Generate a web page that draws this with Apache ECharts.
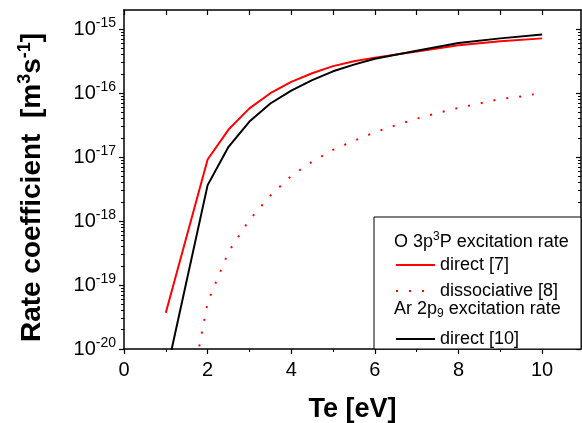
<!DOCTYPE html>
<html><head><meta charset="utf-8">
<script src="https://cdn.jsdelivr.net/npm/echarts@6/dist/echarts.min.js"></script>
<style>html,body{margin:0;padding:0;background:#fff}#c{width:582px;height:423px}</style>
</head><body><div id="c"></div>
<script>
// ---- data ----
const teDirectO   = [1, 2, 2.5, 3, 3.5, 4, 4.5, 5, 5.5, 6, 7, 8, 9, 10];
const rateDirectO = [3.7e-20, 9.2e-18, 2.7e-17, 5.8e-17, 1.0e-16, 1.5e-16, 2.05e-16, 2.65e-16, 3.15e-16, 3.6e-16, 4.5e-16, 5.6e-16, 6.5e-16, 7.2e-16];
const teDissO     = [1.8, 2, 2.5, 3, 3.5, 4, 4.5, 5, 5.5, 6, 6.5, 7, 7.5, 8, 8.5, 9, 9.5, 9.8];
const rateDissO   = [1.1e-20, 5.4e-20, 3.3e-19, 1.05e-18, 2.5e-18, 5.1e-18, 8.5e-18, 1.3e-17, 1.8e-17, 2.45e-17, 3.15e-17, 4.0e-17, 4.9e-17, 5.9e-17, 6.9e-17, 8.1e-17, 8.9e-17, 9.6e-17];
const teDirectAr  = [1, 2, 2.5, 3, 3.5, 4, 4.5, 5, 5.5, 6, 7, 8, 9, 10];
const rateDirectAr= [3.8e-21, 3.65e-18, 1.45e-17, 3.6e-17, 6.9e-17, 1.1e-16, 1.6e-16, 2.2e-16, 2.8e-16, 3.45e-16, 4.6e-16, 6.1e-16, 7.2e-16, 8.3e-16];
const xTickValues = [0, 2, 4, 6, 8, 10];
const xMinorValues = [1, 3, 5, 7, 9];
const xTopTicks = [0, 1, 2, 3, 4, 5, 6, 7, 8, 9, 10];
const yDecades = [1e-20, 1e-19, 1e-18, 1e-17, 1e-16, 1e-15];
const seriesNames = ['direct [7]', 'dissociative [8]', 'direct [10]'];

const FONT = "'Liberation Sans', Arial, sans-serif";
const X_MIN = 0, X_MAX = 10.93, Y_MIN = 1e-20, Y_MAX = 2e-15;

const yMinor = [];
yDecades.forEach(d => { for (let k = 2; k <= 9; k++) { const v = k * d; if (v < Y_MAX) yMinor.push(v); } });

const zip = (a, b) => a.map((v, i) => [v, b[i]]);
const chart = echarts.init(document.getElementById('c'), null, {renderer: 'canvas'});

const axLine = {show: true, onZero: false, lineStyle: {color: '#000', width: 1.5}};
const noLine = {show: false, onZero: false};
const legendCommon = {orient: 'vertical', left: 395, padding: 0, itemWidth: 39, itemHeight: 14,
  selectedMode: false, itemStyle: {opacity: 0},
  textStyle: {fontSize: 18, color: '#000', fontFamily: FONT}};

chart.setOption({
  animation: false,
  backgroundColor: '#fff',
  grid: {left: 124, top: 10, width: 457, height: 339, containLabel: false, outerBoundsMode: 'none'},
  xAxis: [
    {type: 'value', position: 'bottom', min: X_MIN, max: X_MAX,
     axisLine: axLine,
     axisTick: {show: true, length: 5, customValues: xTickValues, lineStyle: {color: '#000', width: 1.2}},
     axisLabel: {customValues: xTickValues, fontSize: 20, color: '#000', fontFamily: FONT, margin: 11},
     splitLine: {show: false},
     name: 'Te [eV]', nameLocation: 'middle', nameGap: 47,
     nameTextStyle: {fontSize: 27, fontWeight: 'bold', color: '#000', fontFamily: FONT}},
    {type: 'value', position: 'bottom', min: X_MIN, max: X_MAX,
     axisLine: noLine,
     axisTick: {show: true, length: 3, customValues: xMinorValues, lineStyle: {color: '#000', width: 1}},
     axisLabel: {show: false}, splitLine: {show: false}},
    {type: 'value', position: 'top', min: X_MIN, max: X_MAX,
     axisLine: axLine,
     axisTick: {show: true, inside: true, length: 5, customValues: xTopTicks, lineStyle: {color: '#000', width: 1.2}},
     axisLabel: {show: false}, splitLine: {show: false}}
  ],
  yAxis: [
    {type: 'log', logBase: 10, position: 'left', min: Y_MIN, max: Y_MAX,
     axisLine: axLine,
     axisTick: {show: true, length: 5, customValues: yDecades, lineStyle: {color: '#000', width: 1.2}},
     axisLabel: {customValues: yDecades, margin: 8, color: '#000',
       formatter: v => '{b|10}{s|' + Math.round(Math.log10(v)) + '}',
       rich: {b: {fontSize: 20, fontFamily: FONT, color: '#000'},
              s: {fontSize: 14, fontFamily: FONT, color: '#000', padding: [0, 0, 12, 0]}}},
     splitLine: {show: false},
     name: 'Rate coefficient  [m{s|3}s{s|-1}]', nameLocation: 'middle', nameRotate: 90, nameGap: 75,
     nameTextStyle: {fontSize: 28, fontWeight: 'bold', color: '#000', fontFamily: FONT, padding: [0, 16, 0, 0],
       rich: {s: {fontSize: 18, fontWeight: 'bold', color: '#000', fontFamily: FONT, padding: [0, 0, 15, 0]}}}},
    {type: 'log', logBase: 10, position: 'left', min: Y_MIN, max: Y_MAX,
     axisLine: noLine,
     axisTick: {show: true, length: 3, customValues: yMinor, lineStyle: {color: '#000', width: 1}},
     axisLabel: {show: false}, splitLine: {show: false}},
    {type: 'log', logBase: 10, position: 'right', min: Y_MIN, max: Y_MAX,
     axisLine: axLine,
     axisTick: {show: true, inside: true, length: 5, customValues: yDecades, lineStyle: {color: '#000', width: 1.2}},
     axisLabel: {show: false}, splitLine: {show: false}},
    {type: 'log', logBase: 10, position: 'right', min: Y_MIN, max: Y_MAX,
     axisLine: noLine,
     axisTick: {show: true, inside: true, length: 3, customValues: yMinor, lineStyle: {color: '#000', width: 1}},
     axisLabel: {show: false}, splitLine: {show: false}}
  ],
  legend: [
    Object.assign({data: [seriesNames[0], seriesNames[1]], top: 256, itemGap: 8}, legendCommon),
    Object.assign({data: [seriesNames[2]], top: 330}, legendCommon)
  ],
  graphic: [
    {type: 'rect', z: 1, shape: {x: 374, y: 217, width: 207, height: 132},
     style: {fill: '#fff', stroke: '#000', lineWidth: 1}},
    {type: 'text', z: 5, x: 394, y: 242,
     style: {text: 'O 3p{sup|3}P excitation rate', fill: '#000', font: '18px ' + FONT, verticalAlign: 'middle',
       rich: {sup: {fontSize: 12, fontFamily: FONT, fill: '#000', padding: [0, 0, 10, 0]}}}},
    {type: 'text', z: 5, x: 394, y: 309,
     style: {text: 'Ar 2p{sub|9} excitation rate', fill: '#000', font: '18px ' + FONT, verticalAlign: 'middle',
       rich: {sub: {fontSize: 12, fontFamily: FONT, fill: '#000', padding: [10, 0, 0, 0]}}}}
  ],
  series: [
    {name: seriesNames[0], type: 'line', xAxisIndex: 0, yAxisIndex: 0, data: zip(teDirectO, rateDirectO),
     symbol: 'none', clip: true, lineStyle: {color: '#ff0000', width: 2}, itemStyle: {color: '#ff0000'}, z: 3},
    {name: seriesNames[1], type: 'line', xAxisIndex: 0, yAxisIndex: 0, data: zip(teDissO, rateDissO),
     symbol: 'none', clip: true, lineStyle: {color: '#ff0000', width: 2, type: [2, 11]}, itemStyle: {color: '#ff0000'}, z: 3},
    {name: seriesNames[2], type: 'line', xAxisIndex: 0, yAxisIndex: 0, data: zip(teDirectAr, rateDirectAr),
     symbol: 'none', clip: true, lineStyle: {color: '#000', width: 2}, itemStyle: {color: '#000'}, z: 3}
  ]
});
</script></body></html>
